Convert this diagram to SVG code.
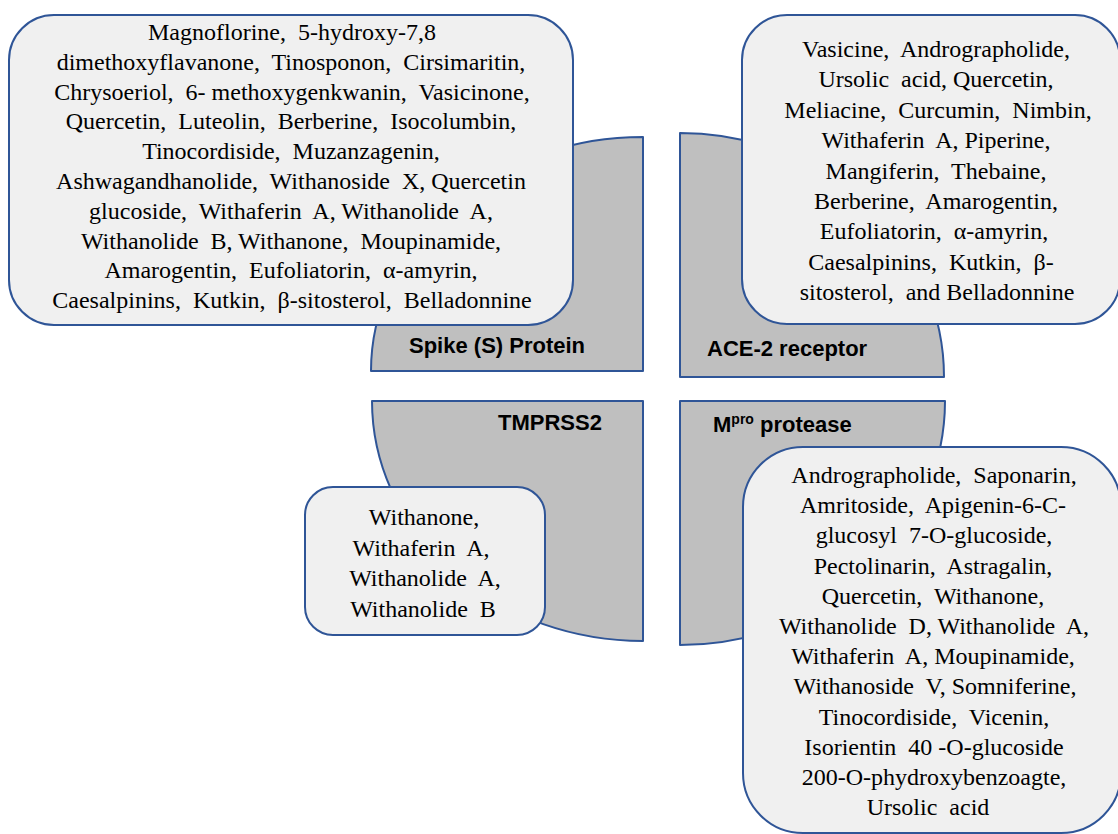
<svg xmlns="http://www.w3.org/2000/svg" width="1118" height="834" viewBox="0 0 1118 834">
<style>
.q{fill:#bfbfbf;stroke:#2f5597;stroke-width:2;stroke-linejoin:round}
.box{fill:#f0f0f0;stroke:#2f5597;stroke-width:2}
.lbl{font-family:"Liberation Sans",Arial,sans-serif;font-weight:bold;font-size:22px;fill:#000}
.t{font-family:"Liberation Serif","Times New Roman",serif;font-size:24px;fill:#000;text-anchor:middle;white-space:pre}
</style>
<rect width="1118" height="834" fill="#ffffff"/>
<g id="connectors"></g>
<g id="spike-protein">
<path class="q" d="M643,371 L371,371 A272,234 0 0 1 643,137 Z"/>
<text class="lbl" x="409" y="353">Spike (S) Protein</text>
</g>
<g id="ace2-receptor">
<path class="q" d="M680,377 L680,133 A264,244 0 0 1 944,377 Z"/>
<text class="lbl" x="707" y="356">ACE-2 receptor</text>
</g>
<g id="tmprss2">
<path class="q" d="M643,401 L643,641 A271,240 0 0 1 372,401 Z"/>
<text class="lbl" x="498" y="430">TMPRSS2</text>
</g>
<g id="mpro-protease">
<path class="q" d="M680,401 L945,401 A265,244 0 0 1 680,645 Z"/>
<text class="lbl" x="713" y="432">M<tspan font-size="14" dy="-8">pro</tspan><tspan dy="8"> protease</tspan></text>
</g>
<g id="spike-compounds">
<rect class="box" x="9" y="15" width="564" height="310" rx="45" ry="45"/>
<text class="t" xml:space="preserve"><tspan x="292" y="40">Magnoflorine,  5-hydroxy-7,8</tspan><tspan x="291" y="69.8">dimethoxyflavanone,  Tinosponon,  Cirsimaritin,</tspan><tspan x="292" y="99.6">Chrysoeriol,  6- methoxygenkwanin,  Vasicinone,</tspan><tspan x="291" y="129.4">Quercetin,  Luteolin,  Berberine,  Isocolumbin,</tspan><tspan x="291" y="159.2">Tinocordiside,  Muzanzagenin,</tspan><tspan x="291" y="189">Ashwagandhanolide,  Withanoside  X, Quercetin</tspan><tspan x="291" y="218.8">glucoside,  Withaferin  A, Withanolide  A,</tspan><tspan x="291" y="248.6">Withanolide  B, Withanone,  Moupinamide,</tspan><tspan x="291" y="278.4">Amarogentin,  Eufoliatorin,  α-amyrin,</tspan><tspan x="292" y="308.2">Caesalpinins,  Kutkin,  β-sitosterol,  Belladonnine</tspan></text>
</g>
<g id="ace2-compounds">
<rect class="box" x="742" y="15" width="378" height="309" rx="45" ry="45"/>
<text class="t" xml:space="preserve"><tspan x="936" y="57">Vasicine,  Andrographolide,</tspan><tspan x="936" y="87.4">Ursolic  acid, Quercetin,</tspan><tspan x="938" y="117.8">Meliacine,  Curcumin,  Nimbin,</tspan><tspan x="936" y="148.2">Withaferin  A, Piperine,</tspan><tspan x="936" y="178.6">Mangiferin,  Thebaine,</tspan><tspan x="936" y="209">Berberine,  Amarogentin,</tspan><tspan x="934" y="239.4">Eufoliatorin,  α-amyrin,</tspan><tspan x="931" y="269.8">Caesalpinins,  Kutkin,  β-</tspan><tspan x="937" y="300.2">sitosterol,  and Belladonnine</tspan></text>
</g>
<g id="tmprss2-compounds">
<rect class="box" x="305" y="487" width="240" height="148" rx="28" ry="28"/>
<text class="t" xml:space="preserve"><tspan x="424" y="525">Withanone,</tspan><tspan x="421" y="555.6">Withaferin  A,</tspan><tspan x="425" y="586.2">Withanolide  A,</tspan><tspan x="423" y="616.8">Withanolide  B</tspan></text>
</g>
<g id="mpro-compounds">
<rect class="box" x="743" y="447" width="378" height="386" rx="60" ry="60"/>
<text class="t" xml:space="preserve"><tspan x="934" y="483">Andrographolide,  Saponarin,</tspan><tspan x="933" y="513.2">Amritoside,  Apigenin-6-C-</tspan><tspan x="934" y="543.4">glucosyl  7-O-glucoside,</tspan><tspan x="933" y="573.6">Pectolinarin,  Astragalin,</tspan><tspan x="933" y="603.8">Quercetin,  Withanone,</tspan><tspan x="934" y="634">Withanolide  D, Withanolide  A,</tspan><tspan x="933" y="664.2">Withaferin  A, Moupinamide,</tspan><tspan x="935" y="694.4">Withanoside  V, Somniferine,</tspan><tspan x="934" y="724.6">Tinocordiside,  Vicenin,</tspan><tspan x="934" y="754.8">Isorientin  40 -O-glucoside</tspan><tspan x="934" y="785">200-O-phydroxybenzoagte,</tspan><tspan x="928" y="815.2">Ursolic  acid</tspan></text>
</g>
</svg>
